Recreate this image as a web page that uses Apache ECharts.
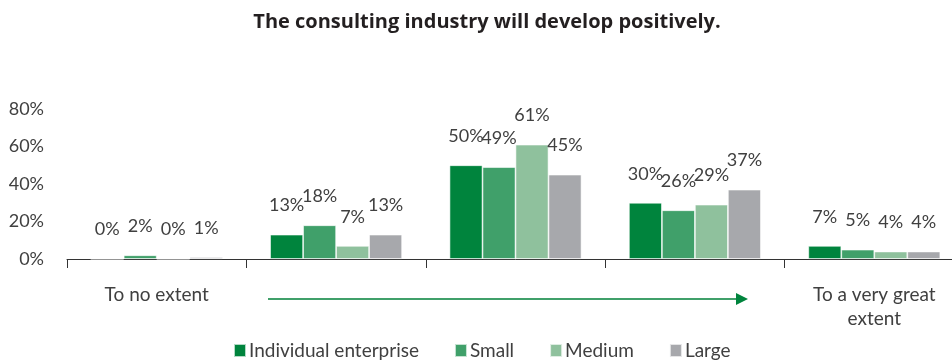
<!DOCTYPE html>
<html>
<head>
<meta charset="utf-8">
<script src="https://cdn.jsdelivr.net/npm/echarts@6/dist/echarts.min.js"></script>
<style>
  html, body { margin: 0; padding: 0; background: #fff; overflow: hidden; }
  /* the category axis runs past the right edge of the page */
  #chart { width: 980px; height: 363px; }
</style>
</head>
<body>
<div id="chart"></div>
<script>
// Answer scale from "to no extent" to "to a very great extent"; only the ends are named
const categories = ['To no extent', '', '', '', 'To a very great\nextent'];

// Share of respondents (%) by company size
const individualEnterprise = [0, 13, 50, 30, 7];
const small = [2, 18, 49, 26, 5];
const medium = [0, 7, 61, 29, 4];
const large = [1, 13, 45, 37, 4];

const seriesNames = ['Individual enterprise', 'Small', 'Medium', 'Large'];
const seriesColors = ['#00843d', '#40a06a', '#8fc19d', '#a7a8ac'];

const yTicks = { min: 0, max: 80, interval: 20 };

const FONT = 'Lato';
const TEXT = '#404040';

const chart = echarts.init(document.getElementById('chart'), null, { renderer: 'canvas' });

const values = [individualEnterprise, small, medium, large];

chart.setOption({
  animation: false,
  backgroundColor: '#fff',
  textStyle: { fontFamily: FONT },
  title: {
    text: 'The consulting industry will develop positively.',
    left: 482,
    textAlign: 'center',
    top: 7,
    textStyle: { fontFamily: 'Open Sans', fontSize: 20, fontWeight: 'bold', color: '#231f20' }
  },
  legend: {
    left: 228,
    top: 336,
    itemWidth: 12,
    itemHeight: 13,
    itemGap: 35,
    icon: 'rect',
    textStyle: { fontFamily: FONT, fontSize: 19, color: TEXT, padding: [0, 0, 0, -2] },
    data: seriesNames
  },
  grid: { left: 67, top: 109, width: 897, height: 150, containLabel: false },
  xAxis: {
    type: 'category',
    data: categories,
    axisLine: { lineStyle: { color: '#333', width: 1 } },
    axisTick: { show: true, length: 9, lineStyle: { color: '#333' } },
    axisLabel: {
      interval: 0,
      margin: 24,
      fontFamily: FONT,
      fontSize: 19,
      lineHeight: 24,
      color: TEXT
    }
  },
  yAxis: {
    type: 'value',
    min: yTicks.min,
    max: yTicks.max,
    interval: yTicks.interval,
    axisLine: { show: false },
    axisTick: { show: false },
    splitLine: { show: false },
    axisLabel: {
      margin: 23,
      fontFamily: FONT,
      fontSize: 18,
      color: TEXT,
      formatter: '{value}%'
    }
  },
  series: seriesNames.map((name, i) => ({
    name,
    type: 'bar',
    data: values[i],
    barWidth: 33,
    barGap: '0%',
    itemStyle: { color: seriesColors[i], borderColor: 'rgba(255,255,255,0.7)', borderWidth: 0.8 },
    label: {
      show: true,
      position: 'top',
      distance: 20,
      fontFamily: FONT,
      fontSize: 18,
      color: TEXT,
      formatter: p => p.value + '%'
    }
  })),
  graphic: [
    {
      type: 'line',
      shape: { x1: 268, y1: 299, x2: 737, y2: 299 },
      style: { stroke: '#40a06a', lineWidth: 2 },
      silent: true
    },
    {
      type: 'polygon',
      shape: { points: [[736, 293], [748, 299], [736, 305]] },
      style: { fill: '#00843d' },
      silent: true
    }
  ]
});
</script>
</body>
</html>
